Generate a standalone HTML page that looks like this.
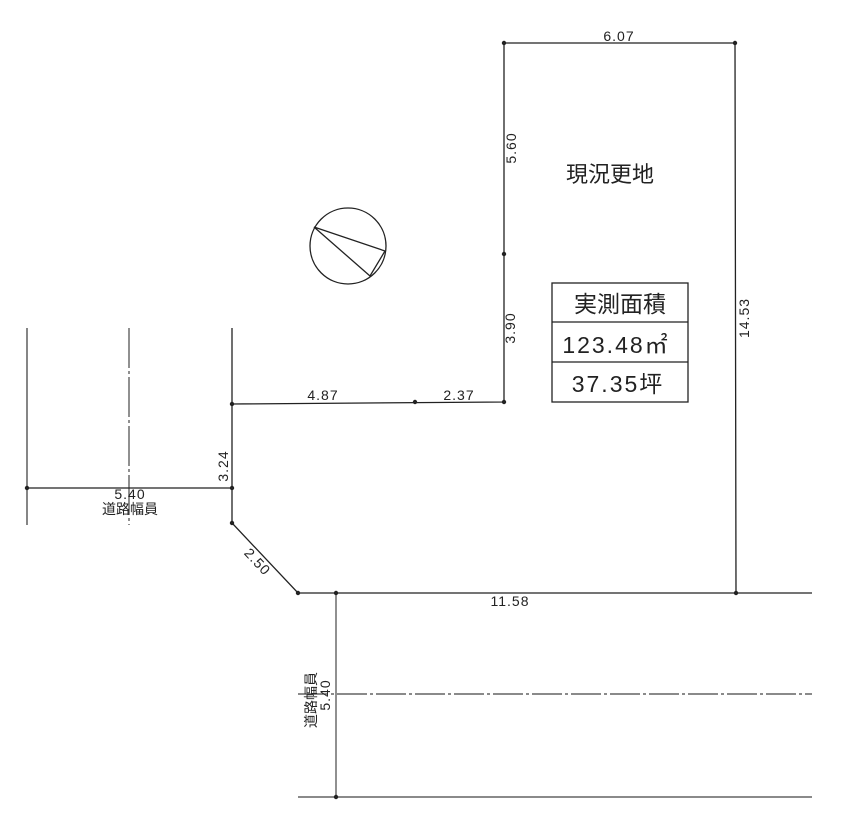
<!DOCTYPE html>
<html><head><meta charset="utf-8"><style>
html,body{margin:0;padding:0;background:#fff;}
svg text{font-family:"Liberation Sans","Noto Sans CJK JP",sans-serif;fill:#222;}
</style></head><body>
<svg width="850" height="813" viewBox="0 0 850 813" xmlns="http://www.w3.org/2000/svg">
<g stroke="#222" fill="none" stroke-width="1.3">
<polyline points="504,402 504,43 735,43 736,593 298,593 232,523 232,404 504,402"/>
<line x1="232" y1="328" x2="232" y2="404"/>
<line x1="27" y1="328" x2="27" y2="525" stroke="#444"/>
<line x1="129" y1="328" x2="129" y2="525" stroke="#555" stroke-dasharray="40,3,3,3"/>
<line x1="27" y1="488" x2="232" y2="488"/>
<line x1="736" y1="593" x2="812" y2="593"/>
<line x1="336" y1="593" x2="336" y2="797" stroke="#555"/>
<line x1="298" y1="694" x2="812" y2="694" stroke="#444" stroke-dasharray="30,3,3,3"/>
<line x1="298" y1="797" x2="812" y2="797" stroke="#444"/>
<circle cx="348" cy="246" r="38"/>
<polyline points="385,251 314,227 370,276 385,251"/>
<rect x="552" y="283" width="136" height="119"/>
<line x1="552" y1="322" x2="688" y2="322"/>
<line x1="552" y1="362" x2="688" y2="362"/>
</g>
<g fill="#222">
<circle cx="504" cy="43" r="2.2"/><circle cx="735" cy="43" r="2.2"/><circle cx="504" cy="254" r="2.2"/>
<circle cx="504" cy="402" r="2.2"/><circle cx="415" cy="402" r="2.2"/><circle cx="232" cy="404" r="2.2"/>
<circle cx="232" cy="488" r="2.2"/><circle cx="27" cy="488" r="2.2"/><circle cx="232" cy="523" r="2.2"/>
<circle cx="298" cy="593" r="2.2"/><circle cx="336" cy="593" r="2.2"/><circle cx="736" cy="593" r="2.2"/>
<circle cx="336" cy="797" r="2.2"/>
</g>
<g font-size="14" text-anchor="middle" letter-spacing="1">
<text x="619" y="41">6.07</text>
<text x="323" y="400">4.87</text>
<text x="459" y="400">2.37</text>
<text x="130" y="499">5.40</text>
<text x="130" y="514" letter-spacing="0">道路幅員</text>
<text x="510" y="606">11.58</text>
<text transform="translate(516,148) rotate(-90)">5.60</text>
<text transform="translate(515,328) rotate(-90)">3.90</text>
<text transform="translate(749,318) rotate(-90)">14.53</text>
<text transform="translate(228,466) rotate(-90)">3.24</text>
<text transform="translate(254,565) rotate(47)">2.50</text>
<text transform="translate(316,700) rotate(-90)" letter-spacing="0">道路幅員</text>
<text transform="translate(330,695) rotate(-90)">5.40</text>
</g>
<text x="610" y="182" font-size="22" text-anchor="middle">現況更地</text>
<text x="620" y="312" font-size="23" text-anchor="middle">実測面積</text>
<text x="616" y="353" font-size="23" text-anchor="middle" letter-spacing="2">123.48㎡</text>
<text x="618" y="392" font-size="23" text-anchor="middle" letter-spacing="2">37.35坪</text>
</svg>
</body></html>
